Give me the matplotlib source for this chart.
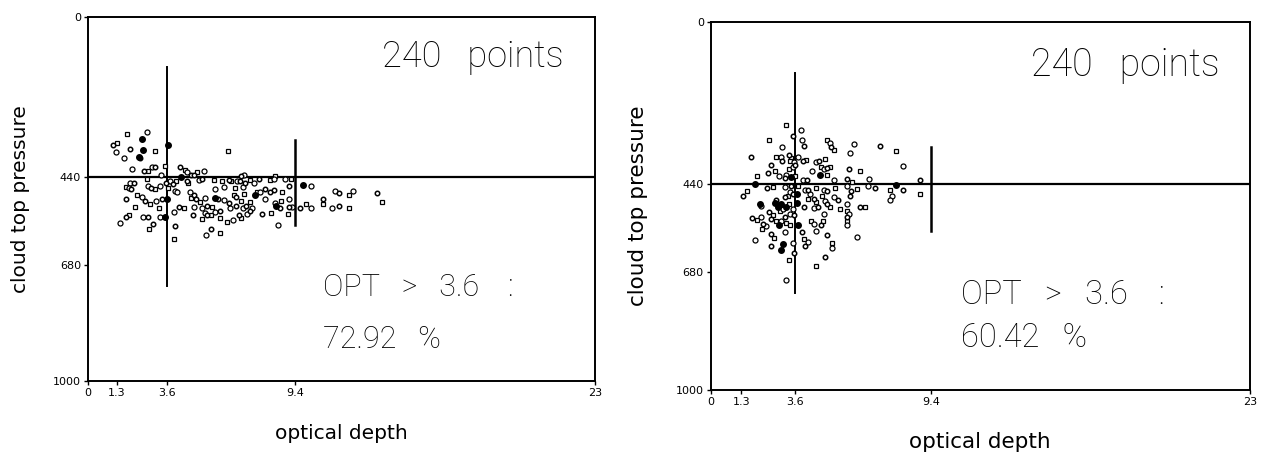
import matplotlib
matplotlib.use("Agg")
import matplotlib.pyplot as plt

# --------------------------
# data (optical depth, cloud top pressure in hPa)
xticks = [0, 1.3, 3.6, 9.4, 23]
yticks = [0, 440, 680, 1000]
n_points = [240, 240]
pct_above = [72.92, 60.42]

# left panel, open markers
left_opt = [1.77, 2.68, 1.11, 1.32, 1.26, 1.92, 3.06, 1.65, 2.38, 6.36, 1.98, 2.53, 2.71, 2.91,
            3.06, 3.49, 3.31, 4.16, 4.42, 4.49, 4.67, 4.94, 5.25, 4.79, 5.10, 7.06, 6.94, 8.49,
            1.89, 2.07, 1.70, 1.86, 1.97, 2.68, 2.71, 2.86, 3.06, 3.28, 3.54, 3.63, 3.74, 3.86,
            4.01, 3.96, 4.49, 4.52, 4.64, 4.79, 4.67, 5.02, 5.17, 5.70, 5.78, 5.88, 6.08, 6.18,
            6.38, 6.49, 6.76, 6.91, 6.65, 7.03, 7.13, 7.36, 7.51, 7.74, 7.66, 7.81, 8.04, 8.27,
            8.42, 8.42, 8.80, 8.95, 9.10, 9.20, 10.11, 1.74, 2.23, 2.45, 2.60, 2.83, 3.10, 3.36,
            2.12, 1.44, 1.70, 1.86, 2.48, 2.71, 3.21, 3.25, 2.97, 2.75, 3.92, 4.11, 4.34, 4.79,
            4.76, 5.16, 5.32, 5.40, 5.58, 5.78, 6.00, 5.97, 5.17, 5.40, 5.62, 6.18, 6.38, 6.61,
            6.45, 6.73, 6.94, 7.03, 7.18, 7.36, 7.45, 6.83, 6.94, 7.21, 7.36, 6.30, 6.58, 7.89,
            8.30, 8.49, 8.72, 8.77, 9.10, 9.14, 9.08, 9.25, 9.63, 9.90, 10.11, 10.65, 10.65, 11.06,
            11.41, 11.82, 11.21, 11.41, 11.82, 12.01, 13.10, 13.33, 8.60, 3.93, 3.92, 5.35, 5.58,
            6.00, 4.04, 4.91, 5.10, 5.32, 6.73, 7.06, 8.04, 8.24]
left_ctp = [321, 317, 352, 347, 371, 363, 368, 388, 388, 368, 418, 422, 422, 413,
            413, 408, 433, 413, 420, 425, 433, 425, 424, 435, 446, 433, 438, 438,
            456, 456, 467, 469, 473, 445, 465, 469, 473, 465, 456, 469, 451, 460,
            451, 477, 451, 455, 480, 488, 497, 449, 445, 447, 472, 501, 451, 467,
            447, 451, 451, 451, 471, 466, 456, 449, 455, 445, 482, 482, 472, 449,
            445, 474, 480, 445, 465, 445, 464, 501, 488, 495, 506, 513, 506, 501,
            522, 567, 548, 543, 548, 548, 526, 550, 568, 582, 535, 522, 524, 522,
            543, 556, 538, 545, 545, 536, 533, 552, 524, 520, 522, 504, 511, 489,
            524, 520, 506, 524, 520, 508, 524, 544, 552, 541, 533, 563, 558, 540,
            538, 511, 526, 506, 501, 522, 541, 522, 524, 513, 524, 499, 515, 524,
            518, 524, 477, 484, 489, 478, 484, 509, 570, 573, 609, 598, 582,
            593, 482, 499, 508, 497, 495, 486, 501, 480]
# left panel, filled markers (stacked points)
left_opt_filled = [2.45, 2.50, 2.33, 3.63, 4.23, 5.78, 7.59, 9.75, 3.58, 3.49, 8.54]
left_ctp_filled = [334, 365, 384, 352, 440, 497, 488, 462, 499, 549, 520]

# right panel, open markers
right_opt = [3.19, 3.83, 3.50, 2.50, 3.90, 3.99, 4.95, 5.07, 5.15, 5.26, 6.11, 7.21, 7.92, 3.02,
             1.71, 2.80, 2.98, 3.33, 3.43, 3.71, 3.04, 3.36, 3.57, 3.92, 4.07, 4.49, 4.63, 4.87,
             5.94, 2.58, 3.32, 3.50, 3.61, 4.70, 4.84, 4.98, 5.10, 4.32, 5.90, 6.36, 8.20, 2.44,
             1.99, 2.89, 3.18, 3.60, 3.92, 4.11, 4.98, 5.26, 5.80, 6.04, 6.75, 8.93, 2.73, 3.22,
             2.42, 2.66, 3.18, 3.43, 3.71, 4.02, 4.14, 4.49, 4.84, 4.98, 5.29, 5.83, 5.97, 6.22,
             6.73, 6.99, 7.63, 7.75, 8.20, 8.93, 7.63, 1.39, 1.54, 2.16, 2.80, 2.94, 3.08, 3.18,
             3.29, 3.36, 3.50, 3.32, 3.50, 3.97, 4.14, 4.25, 4.39, 4.49, 4.39, 4.56, 4.73, 4.87,
             4.95, 5.10, 5.26, 5.43, 5.52, 5.80, 5.94, 5.80, 5.90, 5.80, 5.80, 5.80, 6.36, 6.60,
             4.84, 1.77, 1.99, 2.16, 2.23, 2.20, 2.37, 2.56, 2.80, 2.98, 3.15, 3.22, 3.18, 2.56,
             2.70, 1.88, 2.56, 3.36, 3.50, 3.54, 3.32, 3.23, 3.88, 3.97, 4.14, 4.02, 4.28, 4.39,
             4.70, 4.77, 4.49, 4.95, 5.17, 5.17, 4.87, 4.49, 6.25, 2.49, 2.66, 3.36, 3.54]
right_ctp = [281, 295, 311, 320, 320, 336, 320, 329, 340, 349, 331, 337, 351, 340,
             366, 366, 366, 363, 369, 366, 379, 377, 381, 378, 375, 381, 378, 372,
             357, 390, 401, 395, 390, 395, 399, 397, 395, 406, 401, 406, 392, 410,
             420, 420, 424, 420, 431, 429, 415, 429, 426, 435, 426, 431, 404, 415,
             451, 449, 449, 445, 445, 456, 456, 451, 456, 460, 451, 447, 460, 454,
             447, 451, 456, 472, 456, 467, 485, 474, 460, 500, 485, 514, 508, 476,
             472, 463, 467, 496, 508, 502, 481, 469, 481, 490, 505, 503, 474, 487,
             496, 502, 476, 485, 508, 496, 474, 514, 522, 531, 541, 551, 503, 502,
             522, 533, 538, 531, 549, 562, 556, 535, 540, 541, 531, 547, 571, 576,
             587, 594, 608, 553, 601, 628, 648, 701, 571, 589, 599, 608, 540, 549,
             551, 542, 569, 580, 600, 615, 639, 664, 585, 517, 526, 523, 526]
# right panel, filled markers
right_opt_filled = [3.43, 4.67, 7.92, 1.88, 2.09, 2.73, 2.87, 3.68, 3.68, 2.89, 3.08, 2.98,
                    3.74, 3.22, 3.01]
right_ctp_filled = [422, 417, 442, 440, 496, 493, 502, 467, 493, 553, 603, 619, 553, 503, 494]

# guide lines: (optical depth, pressure from, pressure to)
left_vlines = [(3.6, 137, 740), (9.4, 337, 571)]
right_vlines = [(3.6, 139, 737), (9.4, 340, 567)]
ctp_split = 440

panels = [
    dict(opt=left_opt, ctp=left_ctp, optf=left_opt_filled, ctpf=left_ctp_filled,
         vlines=left_vlines, rect=[0.0695, 0.166, 0.400, 0.797],
         n=n_points[0], pct=pct_above[0], big=26, mid=22, lab=14.5, xlp=19, ylp=17,
         y_n=0.889, y_opt=0.256, y_pct=0.115, x_n=0.939),
    dict(opt=right_opt, ctp=right_ctp, optf=right_opt_filled, ctpf=right_ctp_filled,
         vlines=right_vlines, rect=[0.561, 0.147, 0.4254, 0.805],
         n=n_points[1], pct=pct_above[1], big=27, mid=23.5, lab=15.5, xlp=18, ylp=20,
         y_n=0.883, y_opt=0.258, y_pct=0.141, x_n=0.944),
]

txt_font = dict(family="Roboto", fontweight="light", color="black")

fig = plt.figure(figsize=(12.67, 4.57), dpi=100)

for p in panels:
    ax = fig.add_axes(p["rect"])
    # open markers, every third one as a square
    ax.plot(p["opt"][0::3], p["ctp"][0::3], ls="none", marker="s", ms=3.2,
            mfc="white", mec="black", mew=0.9, zorder=3)
    ax.plot(p["opt"][1::3], p["ctp"][1::3], ls="none", marker="o", ms=3.6,
            mfc="white", mec="black", mew=0.9, zorder=3)
    ax.plot(p["opt"][2::3], p["ctp"][2::3], ls="none", marker="o", ms=3.2,
            mfc="white", mec="black", mew=1.1, zorder=3)
    ax.plot(p["optf"], p["ctpf"], ls="none", marker="o", ms=4,
            mfc="black", mec="black", zorder=3)

    ax.axhline(ctp_split, color="black", lw=1.6, zorder=2)
    for x0, y0, y1 in p["vlines"]:
        ax.plot([x0, x0], [y0, y1], color="black", lw=1.4 if x0 < 5 else 1.8, zorder=2)

    ax.set_xlim(0, 23)
    ax.set_ylim(1000, 0)
    ax.set_xticks(xticks)
    ax.set_xticklabels(["0", "1.3", "3.6", "9.4", "23"])
    ax.set_yticks(yticks)
    ax.tick_params(direction="out", length=3, width=1, labelsize=8, pad=2)
    for s in ax.spines.values():
        s.set_linewidth(1.4)

    ax.set_xlabel("optical depth", fontsize=p["lab"], labelpad=p["xlp"])
    ax.set_ylabel("cloud top pressure", fontsize=p["lab"], labelpad=p["ylp"])

    ax.text(p["x_n"], p["y_n"], f"{p['n']}   points", transform=ax.transAxes, ha="right",
            va="center", fontsize=p["big"], **txt_font)
    ax.text(0.464, p["y_opt"], "OPT   >   3.6    :", transform=ax.transAxes, ha="left",
            va="center", fontsize=p["mid"], **txt_font)
    ax.text(0.464, p["y_pct"], f"{p['pct']:.2f}   %", transform=ax.transAxes, ha="left",
            va="center", fontsize=p["mid"], **txt_font)

fig.savefig("out.png", dpi=100)
